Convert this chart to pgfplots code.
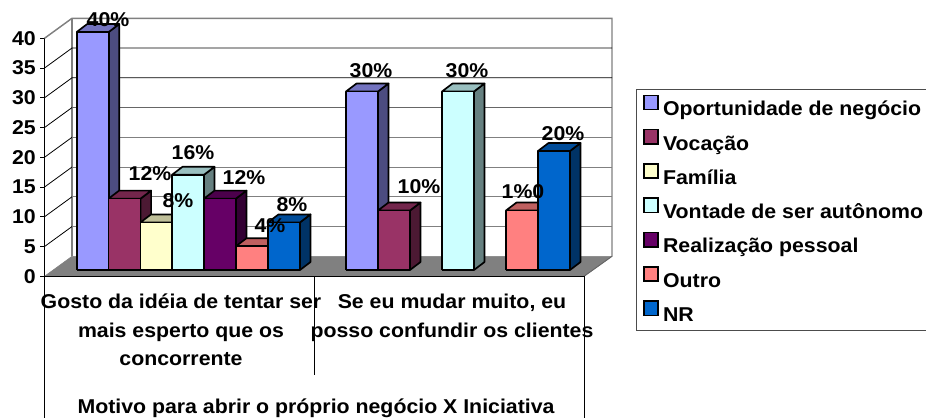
\documentclass[border=0pt]{standalone}
\usepackage{fontspec}
\setmainfont[FakeStretch=1.065]{Liberation Sans}
\usepackage{pgfplots}
\pgfplotsset{compat=1.18}
\definecolor{c1}{HTML}{9999FF}
\definecolor{c2}{HTML}{993366}
\definecolor{c3}{HTML}{FFFFCC}
\definecolor{c4}{HTML}{CCFFFF}
\definecolor{c5}{HTML}{660066}
\definecolor{c6}{HTML}{FF8080}
\definecolor{c7}{HTML}{0066CC}
\definecolor{wall}{HTML}{808080}
\newcommand\chartfont{\bfseries\fontsize{15pt}{16pt}\selectfont}
\newcommand\cubebar[3]{%
  \pgfmathsetmacro\xa{#1}\pgfmathsetmacro\xb{#1+32}\pgfmathsetmacro\xc{#1+42.5}\pgfmathsetmacro\xd{#1+10.5}%
  \pgfmathsetmacro\ya{1.06}\pgfmathsetmacro\yb{#2+1.06}\pgfmathsetmacro\yc{#2+2.4}\pgfmathsetmacro\yd{2.4}%
  \addplot[forget plot,no markers,fill=#3!50!black,draw=black,line width=1.25pt,line join=round] coordinates {(\xb,\ya)(\xc,\yd)(\xc,\yc)(\xb,\yb)(\xb,\ya)};
  \addplot[forget plot,no markers,fill=#3!75!black,draw=black,line width=1.25pt,line join=round] coordinates {(\xa,\yb)(\xb,\yb)(\xc,\yc)(\xd,\yc)(\xa,\yb)};
  \addplot[forget plot,no markers,fill=#3,draw=black,line width=1.25pt,line join=round] coordinates {(\xa,\ya)(\xb,\ya)(\xb,\yb)(\xa,\yb)(\xa,\ya)};
}
\newcommand\lab[3]{\node[font=\chartfont,inner sep=0pt,anchor=center,text height=11pt,text depth=3pt] at (axis cs:#1,{(276.3-#2)/5.95}) {#3};}
\begin{document}
\begin{tikzpicture}
\path[use as bounding box] (0,0) rectangle (694.5pt,313.5pt);
\clip (0,0) rectangle (694.5pt,313.5pt);
\begin{axis}[
  at={(33.375pt,106.275pt)},anchor=south west,
  x=0.75pt,y=4.4625pt,
  xmin=44.5,xmax=584,ymin=0,ymax=40,
  clip=false,
  axis x line*=bottom,axis y line*=left,
  x axis line style={-,line width=0.75pt},
  y axis line style={-,line width=0.75pt},
  xtick=\empty,
  ytick={0,5,10,15,20,25,30,35,40},
  tick align=outside,major tick length=3pt,
  tick style={black,line width=0.75pt},
  yticklabel style={font=\chartfont,/pgf/number format/assume math mode=true,xshift=0pt},
  legend cell align=left,
  legend image code/.code={\path[#1,draw=black,line width=1.25pt] (0.3pt,0.6pt) rectangle (11pt,11.3pt);},
  legend style={at={(axis cs:636,{(276.3-89)/5.95})},anchor=north west,draw=black!70,line width=0.75pt,
    font=\chartfont,inner xsep=5pt,inner ysep=3.75pt,row sep=6.8pt,
    nodes={text height=11pt,text depth=3pt,inner ysep=0pt,inner xsep=3pt}},
]
% walls
\addplot[forget plot,no markers,fill=wall,draw=wall] coordinates {(44.5,0)(72,3.36)(612,3.36)(584,0)(44.5,0)};
\addplot[forget plot,no markers,draw=wall,line width=1.1pt] coordinates {(44.5,40)(72,43.36)(612,43.36)(612,3.36)};
\addplot[forget plot,no markers,draw=wall,line width=1.1pt] coordinates {(72,43.36)(72,3.36)};
\addplot[forget plot,no markers,draw=black,line width=0.6pt] coordinates {(44.5,35)(72,38.36)(612,38.36)};
\addplot[forget plot,no markers,draw=black,line width=0.6pt] coordinates {(44.5,30)(72,33.36)(612,33.36)};
\addplot[forget plot,no markers,draw=black,line width=0.6pt] coordinates {(44.5,25)(72,28.36)};
\addplot[forget plot,no markers,draw=black!60,line width=0.8pt] coordinates {(72,28.36)(612,28.36)};
\addplot[forget plot,no markers,draw=black,line width=0.6pt] coordinates {(44.5,20)(72,23.36)};
\addplot[forget plot,no markers,draw=wall,line width=0.8pt] coordinates {(72,23.36)(612,23.36)};
\addplot[forget plot,no markers,draw=black,line width=0.6pt] coordinates {(44.5,15)(72,18.36)};
\addplot[forget plot,no markers,draw=wall,line width=0.8pt] coordinates {(72,18.36)(612,18.36)};
\addplot[forget plot,no markers,draw=black,line width=0.6pt] coordinates {(44.5,10)(72,13.36)};
\addplot[forget plot,no markers,draw=wall,line width=0.8pt] coordinates {(72,13.36)(612,13.36)};
\addplot[forget plot,no markers,draw=black,line width=0.6pt] coordinates {(44.5,5)(72,8.36)};
\addplot[forget plot,no markers,draw=wall,line width=0.8pt] coordinates {(72,8.36)(612,8.36)};
\addplot[forget plot,no markers,draw=black,line width=0.9pt] coordinates {(44.5,0)(584,0)};
\addplot[forget plot,no markers,draw=black!60,line width=0.7pt] coordinates {(584,0)(612,3.36)};
% category separators
\addplot[forget plot,no markers,draw=black,line width=0.75pt] coordinates {(44.5,0)(44.5,-24)};
\addplot[forget plot,no markers,draw=black,line width=0.75pt] coordinates {(314,0)(314,-16.6)};
\addplot[forget plot,no markers,draw=black,line width=0.75pt] coordinates {(584,0)(584,-24)};
% bars: first category
\cubebar{76.7}{40}{c1}
\cubebar{108.6}{12}{c2}
\cubebar{140.5}{8}{c3}
\cubebar{172}{16}{c4}
\cubebar{204}{12}{c5}
\cubebar{236}{4}{c6}
\cubebar{268}{8}{c7}
% bars: second category
\cubebar{346}{30}{c1}
\cubebar{378}{10}{c2}
\cubebar{442}{30}{c4}
\cubebar{506}{10}{c6}
\cubebar{538}{20}{c7}
% data labels
\lab{108}{21}{40\%}
\lab{150}{175}{12\%}
\lab{193}{154}{16\%}
\lab{178}{202}{8\%}
\lab{244}{179}{12\%}
\lab{270}{227}{4\%}
\lab{292}{206}{8\%}
\lab{371}{72}{30\%}
\lab{419}{188}{10\%}
\lab{467}{72}{30\%}
\lab{523}{193}{1\%0}
\lab{563}{135}{20\%}
% category labels
\lab{181}{303}{Gosto da idéia de tentar ser}
\lab{181}{332}{mais esperto que os}
\lab{181}{360}{concorrente}
\lab{452}{303}{Se eu mudar muito, eu}
\lab{452}{332}{posso confundir os clientes}
\lab{316}{408}{Motivo para abrir o próprio negócio X Iniciativa}
% legend
\addlegendimage{fill=c1}\addlegendentry{Oportunidade de negócio}
\addlegendimage{fill=c2}\addlegendentry{Vocação}
\addlegendimage{fill=c3}\addlegendentry{Família}
\addlegendimage{fill=c4}\addlegendentry{Vontade de ser autônomo}
\addlegendimage{fill=c5}\addlegendentry{Realização pessoal}
\addlegendimage{fill=c6}\addlegendentry{Outro}
\addlegendimage{fill=c7}\addlegendentry{NR}
\end{axis}
\end{tikzpicture}
\end{document}
